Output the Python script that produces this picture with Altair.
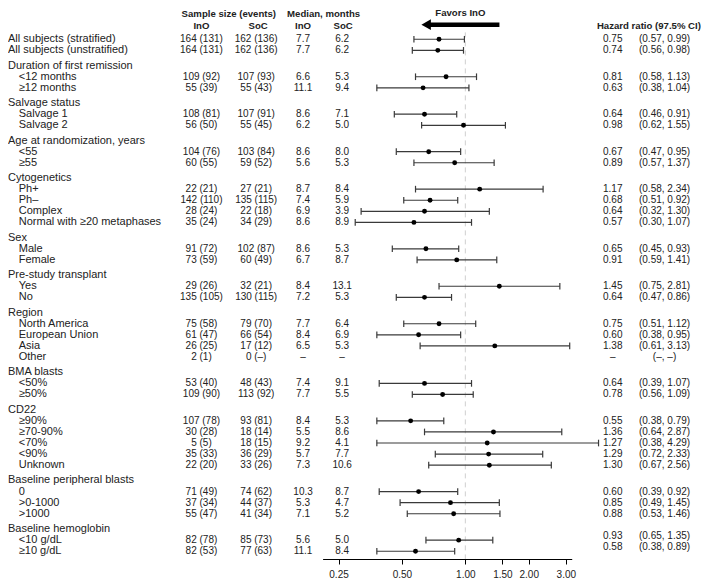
import altair as alt
import pandas as pd

# ---------------- data ----------------
labels = [
    "All subjects (stratified)", "All subjects (unstratified)",
    "Duration of first remission", "<12 months", "≥12 months",
    "Salvage status", "Salvage 1", "Salvage 2",
    "Age at randomization, years", "<55", "≥55",
    "Cytogenetics", "Ph+", "Ph–", "Complex", "Normal with ≥20 metaphases",
    "Sex", "Male", "Female",
    "Pre-study transplant", "Yes", "No",
    "Region", "North America", "European Union", "Asia", "Other",
    "BMA blasts", "<50%", "≥50%",
    "CD22", "≥90%", "≥70-90%", "<70%", "<90%", "Unknown",
    "Baseline peripheral blasts", "0", ">0-1000", ">1000",
    "Baseline hemoglobin", "<10 g/dL", "≥10 g/dL",
]
kind = [
    "top", "top",
    "group", "item", "item",
    "group", "item", "item",
    "group", "item", "item",
    "group", "item", "item", "item", "item",
    "group", "item", "item",
    "group", "item", "item",
    "group", "item", "item", "item", "item",
    "group", "item", "item",
    "group", "item", "item", "item", "item", "item",
    "group", "item", "item", "item",
    "group", "item", "item",
]
n_ino = ["164 (131)", "164 (131)", "", "109 (92)", "55 (39)", "", "108 (81)", "56 (50)",
         "", "104 (76)", "60 (55)", "", "22 (21)", "142 (110)", "28 (24)", "35 (24)",
         "", "91 (72)", "73 (59)", "", "29 (26)", "135 (105)",
         "", "75 (58)", "61 (47)", "26 (25)", "2 (1)", "", "53 (40)", "109 (90)",
         "", "107 (78)", "30 (28)", "5 (5)", "35 (33)", "22 (20)",
         "", "71 (49)", "37 (34)", "55 (47)", "", "82 (78)", "82 (53)"]
n_soc = ["162 (136)", "162 (136)", "", "107 (93)", "55 (43)", "", "107 (91)", "55 (45)",
         "", "103 (84)", "59 (52)", "", "27 (21)", "135 (115)", "22 (18)", "34 (29)",
         "", "102 (87)", "60 (49)", "", "32 (21)", "130 (115)",
         "", "79 (70)", "66 (54)", "17 (12)", "0 (–)", "", "48 (43)", "113 (92)",
         "", "93 (81)", "18 (14)", "18 (15)", "36 (29)", "33 (26)",
         "", "74 (62)", "44 (37)", "41 (34)", "", "85 (73)", "77 (63)"]
med_ino = ["7.7", "7.7", "", "6.6", "11.1", "", "8.6", "6.2", "", "8.6", "5.6",
           "", "8.7", "7.4", "6.9", "8.6", "", "8.6", "6.7", "", "8.4", "7.2",
           "", "7.7", "8.4", "6.5", "–", "", "7.4", "7.7",
           "", "8.4", "5.5", "9.2", "5.7", "7.3", "", "10.3", "5.3", "7.1", "", "5.6", "11.1"]
med_soc = ["6.2", "6.2", "", "5.3", "9.4", "", "7.1", "5.0", "", "8.0", "5.3",
           "", "8.4", "5.9", "3.9", "8.9", "", "5.3", "8.7", "", "13.1", "5.3",
           "", "6.4", "6.9", "5.3", "–", "", "9.1", "5.5",
           "", "5.3", "8.6", "4.1", "7.7", "10.6", "", "8.7", "4.7", "5.2", "", "5.0", "8.4"]
hr = [0.75, 0.74, None, 0.81, 0.63, None, 0.64, 0.98, None, 0.67, 0.89,
      None, 1.17, 0.68, 0.64, 0.57, None, 0.65, 0.91, None, 1.45, 0.64,
      None, 0.75, 0.60, 1.38, None, None, 0.64, 0.78,
      None, 0.55, 1.36, 1.27, 1.29, 1.30, None, 0.60, 0.85, 0.88, None, 0.93, 0.58]
lo = [0.57, 0.56, None, 0.58, 0.38, None, 0.46, 0.62, None, 0.47, 0.57,
      None, 0.58, 0.51, 0.32, 0.30, None, 0.45, 0.59, None, 0.75, 0.47,
      None, 0.51, 0.38, 0.61, None, None, 0.39, 0.56,
      None, 0.38, 0.64, 0.38, 0.72, 0.67, None, 0.39, 0.49, 0.53, None, 0.65, 0.38]
hi = [0.99, 0.98, None, 1.13, 1.04, None, 0.91, 1.55, None, 0.95, 1.37,
      None, 2.34, 0.92, 1.30, 1.07, None, 0.93, 1.41, None, 2.81, 0.86,
      None, 1.12, 0.95, 3.13, None, None, 1.07, 1.09,
      None, 0.79, 2.87, 4.29, 2.33, 2.56, None, 0.92, 1.45, 1.46, None, 1.35, 0.89]
hr_text = ["" if k == "group" else ("–" if h is None else f"{h:.2f}") for k, h in zip(kind, hr)]
ci_text = ["" if k == "group" else ("(–, –)" if l is None else f"({l:.2f}, {u:.2f})")
           for k, l, u in zip(kind, lo, hi)]
tick_values = [0.25, 0.5, 1.0, 1.5, 2.0, 3.0]
# rows whose HR text sits a little higher in the original
raised_hr_rows = ["<10 g/dL", "≥10 g/dL"]

# ---------------- layout ----------------
S = 0.977                 # page scale factor
GAP = 0.379               # extra space before each group header (row units)
pos, g = [], 0
for i, k in enumerate(kind):
    if k == "group":
        g += 1
    pos.append(i + GAP * g)

df = pd.DataFrame(dict(label=labels, kind=kind, n_ino=n_ino, n_soc=n_soc,
                       med_ino=med_ino, med_soc=med_soc, hr=hr, lo=lo, hi=hi,
                       hr_text=hr_text, ci_text=ci_text, pos=pos))
df["raised"] = df["label"].isin(raised_hr_rows)

FONT = "Liberation Sans"
FS = 10          # numbers
FS_LAB = 11      # row labels
FS_HEAD = 9.6    # bold headers
TXT = "#222222"
def px(v):
    return v * S

yscale = alt.Scale(domain=[46.87, -2.82], nice=False, zero=False)
xscale = alt.Scale(type="log", domain=[0.21, 3.2], range=[px(322), px(577)], nice=False)
xaxis = alt.Axis(values=tick_values, format=".2f", title="", grid=False,
                 domainColor="#000000", tickColor="#000000", labelColor=TXT,
                 labelFont=FONT, labelFontSize=10, tickSize=5, labelPadding=5,
                 labelFlush=False, labelOverlap=False)
Y = alt.Y("pos:Q", scale=yscale, axis=None)

base = alt.Chart(df)
ci_df = base.transform_filter("datum.hi != null")

def col_text(field, xpix, align="center", filt=None, size=FS, dy=0):
    c = base
    if filt:
        c = c.transform_filter(filt)
    return c.mark_text(align=align, baseline="middle", font=FONT, fontSize=size,
                       color=TXT, dy=dy).encode(x=alt.value(px(xpix)), y=Y,
                                                text=alt.Text(f"{field}:N"))

def header(txt, xpix, ypos, align="center"):
    return alt.Chart(pd.DataFrame({"t": [txt]})).mark_text(
        align=align, baseline="middle", font=FONT, fontSize=FS_HEAD,
        fontWeight="bold", color=TXT).encode(
        x=alt.value(px(xpix)), y=alt.datum(ypos, scale=yscale, axis=None),
        text="t:N")

ref_line = alt.Chart(pd.DataFrame({"v": [1.0]})).mark_rule(
    color="#cfcfcf", strokeDash=[5, 4], strokeWidth=1).encode(
    x=alt.X("v:Q", scale=xscale, axis=xaxis),
    y=alt.datum(-0.62, scale=yscale, axis=None), y2=alt.datum(46.87))

bars = ci_df.mark_rule(color="#3a3a3a", strokeWidth=1.2).encode(
    x=alt.X("lo:Q", scale=xscale, axis=xaxis), x2="hi:Q", y=Y)

caps = ci_df.transform_fold(["lo", "hi"], as_=["which", "endv"]).transform_calculate(
    c1="datum.pos - 0.3", c2="datum.pos + 0.3").mark_rule(
    color="#3a3a3a", strokeWidth=1.2).encode(
    x=alt.X("endv:Q", scale=xscale, axis=xaxis),
    y=alt.Y("c1:Q", scale=yscale, axis=None), y2="c2:Q")

pts = ci_df.mark_circle(color="#000000", size=24, opacity=1).encode(
    x=alt.X("hr:Q", scale=xscale, axis=xaxis), y=Y)

lab_group = col_text("label", 0, "left", "datum.kind != 'item'", size=FS_LAB)
lab_item = col_text("label", 11, "left", "datum.kind == 'item'", size=FS_LAB)

arrow_shaft = alt.Chart(pd.DataFrame({"a": [0]})).mark_rule(
    color="#000000", strokeWidth=4.5).encode(
    x=alt.value(px(430)), x2=alt.value(px(503)),
    y=alt.datum(-1.32, scale=yscale, axis=None))
arrow_head = alt.Chart(pd.DataFrame({"a": [0]})).mark_point(
    shape="triangle-left", filled=True, color="#000000", size=120, opacity=1).encode(
    x=alt.value(px(428)), y=alt.datum(-1.32, scale=yscale, axis=None))

chart = alt.layer(
    ref_line, bars, caps, pts,
    lab_group, lab_item,
    col_text("n_ino", 198), col_text("n_soc", 254),
    col_text("med_ino", 302), col_text("med_soc", 342),
    col_text("hr_text", 619, filt="!datum.raised"),
    col_text("ci_text", 672, filt="!datum.raised"),
    col_text("hr_text", 619, filt="datum.raised", dy=-4),
    col_text("ci_text", 672, filt="datum.raised", dy=-4),
    header("Sample size (events)", 226, -2.29),
    header("Median, months", 323, -2.29),
    header("InO", 198, -1.24), header("SoC", 256, -1.24),
    header("InO", 302, -1.24), header("SoC", 343, -1.24),
    header("Favors InO", 463, -2.38),
    header("Hazard ratio (97.5% CI)", 656, -1.24),
    arrow_shaft, arrow_head,
).properties(
    width=693, height=551,
    padding={"left": 0, "top": 0, "right": 0, "bottom": 19},
    autosize=alt.AutoSizeParams(type="none"),
).configure_view(strokeWidth=0)

chart.save("out.html", embed_options={"renderer": "svg", "actions": False})
